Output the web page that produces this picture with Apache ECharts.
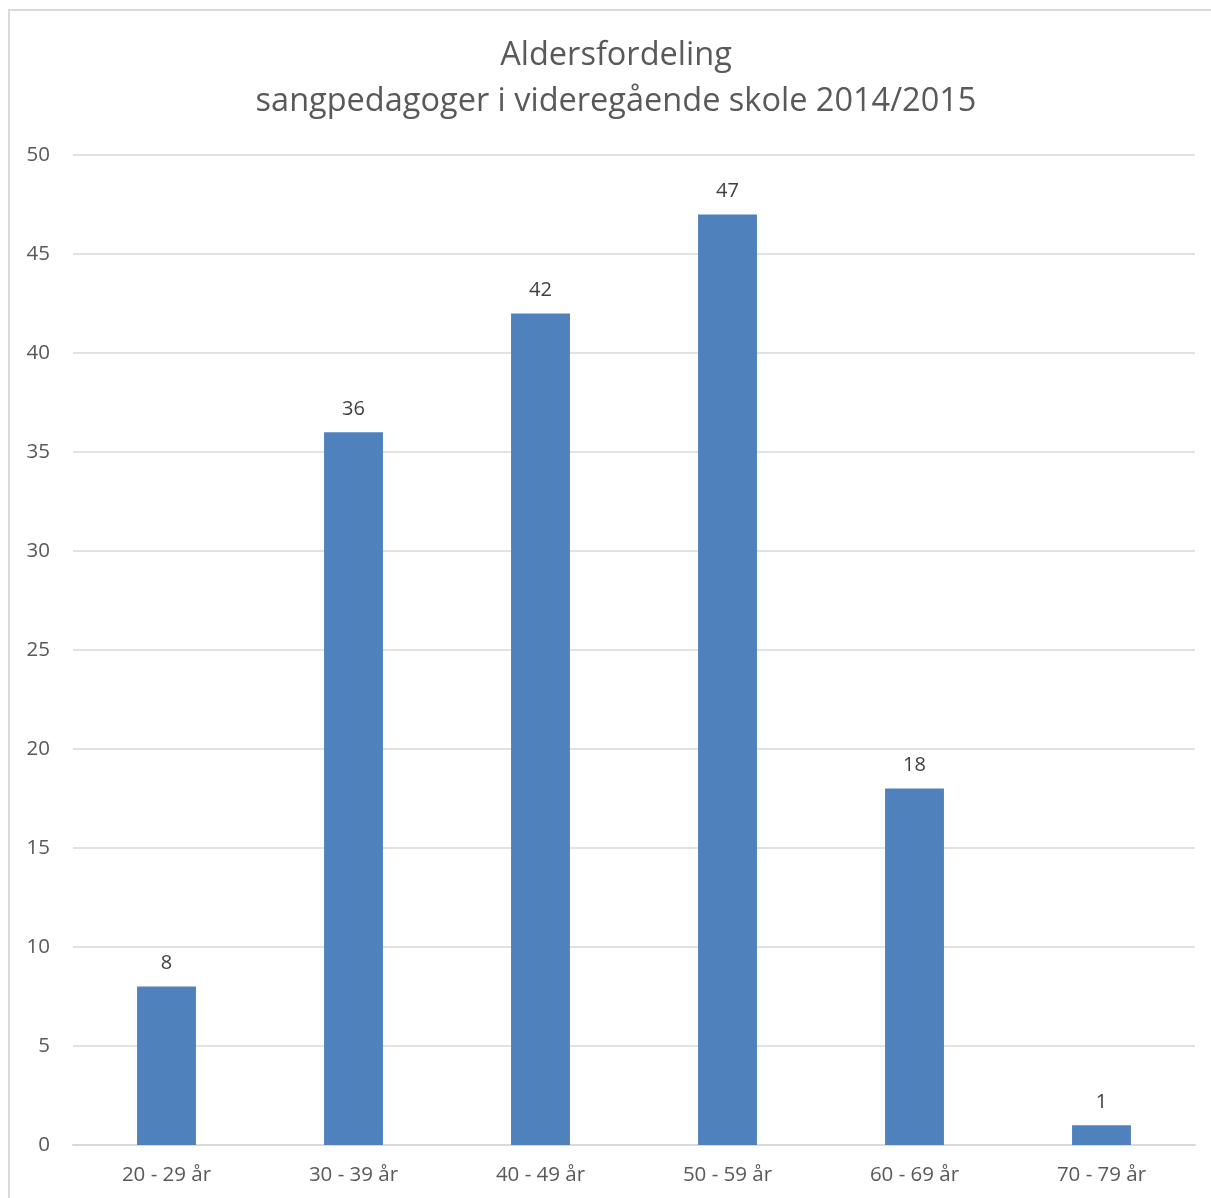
<!DOCTYPE html>
<html>
<head>
<meta charset="utf-8">
<script src="https://cdn.jsdelivr.net/npm/echarts@6/dist/echarts.min.js"></script>
<style>
  html, body { margin: 0; padding: 0; overflow: hidden; background: #fff; }
  #frame { position: absolute; left: 8px; top: 9px; width: 1230px; height: 1220px; border: 2px solid #d9d9d9; }
  #chart { position: absolute; left: 0; top: 0; width: 1211px; height: 1198px; }
</style>
</head>
<body>
<div id="frame"></div>
<div id="chart"></div>
<script>
var categories = ['20 - 29 år', '30 - 39 år', '40 - 49 år', '50 - 59 år', '60 - 69 år', '70 - 79 år']
var counts = [8, 36, 42, 47, 18, 1]

var chart = echarts.init(document.getElementById('chart'))
var fontFamily = '"Open Sans", "Noto Sans", sans-serif'

chart.setOption({
  textStyle: { fontFamily: fontFamily },
  title: {
    text: 'Aldersfordeling\nsangpedagoger i videregående skole 2014/2015',
    left: 611,
    top: 28,
    textAlign: 'center',
    textStyle: {
      fontFamily: fontFamily,
      fontSize: 32.5,
      fontWeight: 'normal',
      color: '#595959',
      lineHeight: 46
    }
  },
  grid: {
    left: 73,
    right: 16,
    top: 155,
    bottom: 53,
    containLabel: false
  },
  xAxis: {
    type: 'category',
    data: categories,
    axisLine: { lineStyle: { color: '#d9d9d9', width: 2 } },
    axisTick: { show: false },
    axisLabel: {
      color: '#595959',
      fontSize: 20.5,
      margin: 20,
      fontFamily: fontFamily
    }
  },
  yAxis: {
    type: 'value',
    min: 0,
    max: 50,
    interval: 5,
    axisLine: { show: false },
    axisTick: { show: false },
    splitLine: { lineStyle: { color: '#d9d9d9', width: 1.5 } },
    axisLabel: {
      color: '#595959',
      fontSize: 20.5,
      margin: 23,
      fontFamily: fontFamily
    }
  },
  series: [
    {
      type: 'bar',
      data: counts,
      barWidth: '31.5%',
      itemStyle: { color: '#4f81bd' },
      label: {
        show: true,
        position: 'top',
        distance: 13,
        color: '#404040',
        fontSize: 20,
        fontFamily: fontFamily
      }
    }
  ]
})
</script>
</body>
</html>
